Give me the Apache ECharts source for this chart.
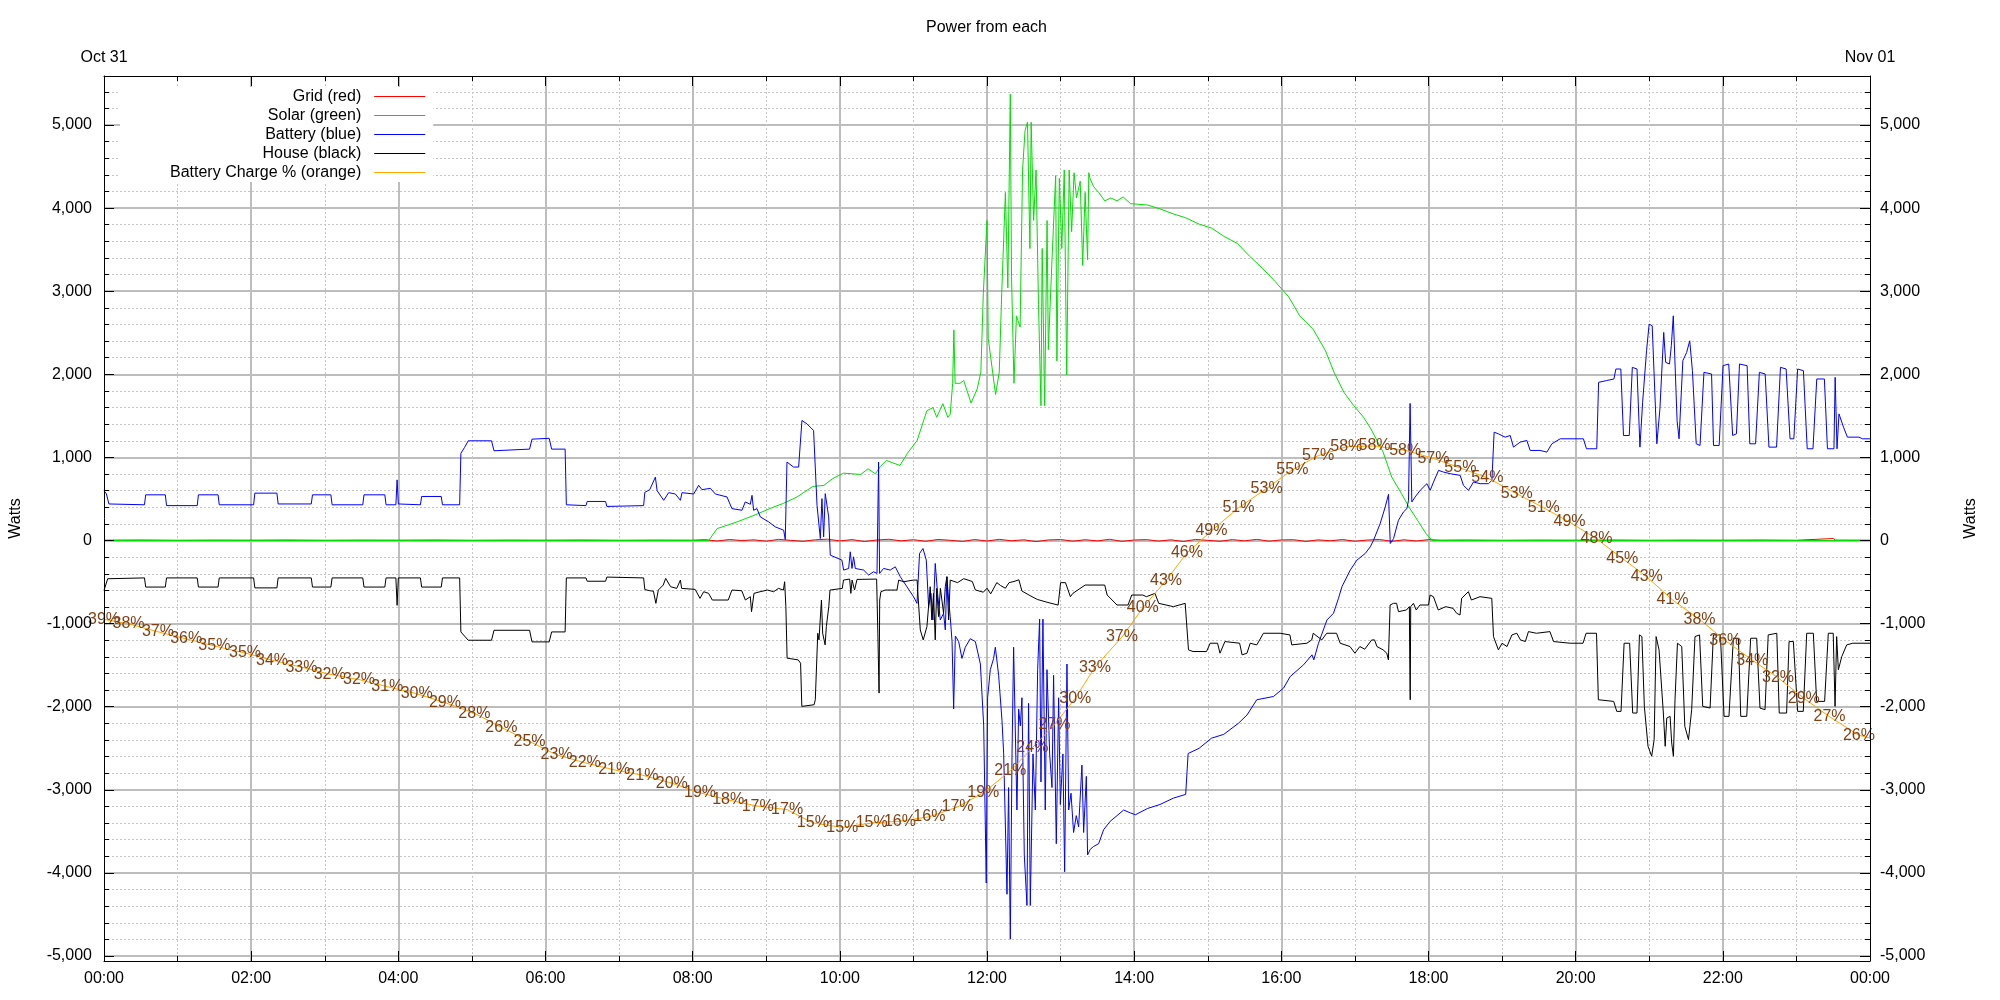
<!DOCTYPE html>
<html>
<head>
<meta charset="utf-8">
<script src="https://cdn.jsdelivr.net/npm/echarts@6/dist/echarts.min.js"></script>
<style>html,body{margin:0;padding:0;background:#fff}#c{width:2000px;height:1000px}</style>
</head>
<body>
<div id="c"></div>
<script>
// ---- data (x = minutes after midnight Oct 31, y = Watts) ----
const titleText = 'Power from each';
const dateLabels = ['Oct 31', 'Nov 01'];
const seriesNames = ['Grid (red)', 'Solar (green)', 'Battery (blue)', 'House (black)', 'Battery Charge % (orange)'];

const gridData = [[0,4],[30,6],[60,3],[90,5],[120,4],[150,6],[180,3],[210,5],[240,4],[270,6],[300,3],[330,5],[360,4],[390,6],[420,3],[450,5],[480,4],
[490,10],[500,-6],[510,12],[520,0],[530,8],[540,-8],[550,14],[560,2],[570,-10],[580,9],[590,16],[600,-5],[610,11],[620,-12],[630,6],[640,15],[650,-4],[660,10],[670,-9],[680,13],[690,3],[700,-11],[710,12],[720,-6],[730,14],[740,-3],[750,9],[760,-13],[770,7],[780,12],[790,-8],[800,10],[810,-5],[820,15],[830,-10],[840,6],[850,11],[860,-7],[870,9],[880,-12],[890,13],[900,2],[910,-9],[920,11],[930,-4],[940,14],[950,-8],[960,7],[970,10],[980,-11],[990,8],[1000,-3],[1010,12],[1020,-9],[1030,6],[1040,13],[1050,-10],[1060,9],[1070,-6],[1080,11],[1090,4],
[1110,6],[1140,3],[1170,5],[1200,4],[1230,6],[1260,3],[1290,5],[1320,4],[1350,6],[1380,3],[1410,24],[1412,5],[1440,4]];

const solarData = [[0,0],[493,0],[500,144],[516,223],[530,303],[546,403],[554,447],[565,523],[578,651],[587,663],[594,744],[603,811],[617,795],[623,863],[629,803],[633,891],[638,963],[649,903],[655,1047],[663,1203],[671,1563],[676,1600],[679,1483],[684,1647],[688,1483],
[690,1520],[692,1892],[693,2534],[694,1892],[698,1892],[701,1926],[707,1655],[712,1824],[715,2027],[717,2973],[720,3851],[721,2432],[724,2095],[727,1757],[730,2027],[732,2973],[735,4189],[737,3041],[739,5372],[740,3176],[742,1892],[744,2703],[747,2568],[749,4459],[751,4932],[753,5034],[755,3514],[756,5034],[758,3851],[760,4459],[762,2838],[764,1622],[765,3514],[767,1622],[769,3851],[770,2297],[773,3378],[776,4392],[777,2162],[779,4358],[781,3514],[783,4459],[785,1993],[787,4459],[789,3716],[791,4426],[793,4122],[796,4324],[798,3311],[800,4189],[802,3378],[803,4426],[804,4358],[807,4257],[811,4189],[816,4088],[821,4122],[826,4088],[831,4135],[837,4054],
[851,4037],[861,3991],[872,3930],[882,3884],[893,3807],[903,3761],[914,3653],[924,3577],[934,3423],[945,3270],[955,3116],[966,2932],[975,2704],[986,2540],[996,2284],[1003,2024],[1011,1784],[1019,1624],[1027,1484],[1033,1344],[1043,1064],[1050,764],[1058,564],[1064,404],[1071,244],[1078,84],[1083,0],[1440,0]];

const batteryData = [[0,600],[2,560],[4,440],[33,430],[34,550],[50,550],[51,420],[76,420],[77,550],[93,550],[94,430],[122,430],[123,570],[141,570],[142,440],[169,440],[170,550],[185,550],[186,430],[211,430],[212,550],[229,550],[230,430],[238,430],[239,730],[240,440],[258,430],[259,530],[275,530],[276,430],[290,430],[291,1050],[294,1120],[297,1200],[316,1200],[318,1080],[347,1100],[349,1220],[363,1230],[365,1100],[376,1100],[377,430],
[393,420],[394,470],[409,470],[410,410],[440,420],[441,580],
[445,612],[449.6,763],[451,600],[456.4,484],[460.4,576],[465.9,560],[470,484],[471.3,576],[480.8,560],[484.9,664],[487.6,612],[494.4,628],[498.5,560],[508,524],[512,384],[520.2,364],[522.9,464],[527,436],[528.4,544],[529.7,364],[532.4,384],[535.2,284],[542,224],[547.4,164],[554.2,124],[555.5,12],[556.9,944],[562.3,884],[566.4,884],[569.1,1444],[573.2,1404],[578.6,1324],[581.4,424],[584.1,24],[585.4,504],[586.8,44],[588.1,564],[590.9,284],[592.2,-176],[601.7,-236],[603.1,-356],[607.2,-336],[608.5,-136],[609.9,-336],[611.2,-196],[612.6,-336],[619.4,-356],[623.5,-416],[627.5,-376],[630.3,-396],[631.3,-396],[631.6,944],[632.2,944],[632.4,-396],[635.7,-336],[641.1,-356],[645.2,-316],[649.3,-436],[654.7,-556],[660.1,-676],[662.9,-756],[665,-156],[667.8,-96],[670.5,-236],[672.4,-796],[674.3,-636],[675.9,-956],[677.8,-276],[679.7,-636],[681.9,-956],[684.6,-876],[686,-1076],[687.3,-436],[688.7,-716],[690,-916],
[691.5,-1216],[692.8,-2027],[694.2,-1149],[696.9,-1216],[699.6,-1419],[702.3,-1284],[706.4,-1182],[710.5,-1216],[714.6,-1486],[717.3,-2230],[719.4,-4122],[720.5,-1892],[722.7,-1554],[725.4,-1419],[726.8,-1284],[729.5,-1622],[732.2,-2162],[733.6,-2568],[736.3,-4257],[737.6,-2973],[739,-4797],[740.4,-2568],[741.7,-1284],[744.4,-3243],[745.8,-2027],[747.2,-2230],[748.5,-1892],[750.4,-3784],[752.6,-4392],[753.9,-1959],[755.3,-4392],[757.5,-2568],[759.4,-3243],[761.3,-1554],[762.9,-946],[764,-2905],[765.6,-946],[767.5,-3243],[768.9,-1554],[771.1,-2568],[773,-2973],[774.3,-1622],[776.5,-3649],[778.4,-1892],[779.8,-3176],[781.9,-2568],[783.3,-3986],[785.2,-1486],[786.6,-3243],[788.5,-3041],[790.6,-3514],[792.8,-3311],[794.7,-3446],[797.4,-2703],[798.8,-3514],[801,-2838],[802,-3784],[804.2,-3716],[806.9,-3682],[811,-3649],[815.1,-3480],[820.5,-3378],[826,-3311],[831.4,-3243],[836.8,-3277],
[841,-3300],[851,-3224],[861,-3177],[872,-3100],[882,-3055],[884,-2563],[893,-2500],[903,-2379],[913,-2333],[925,-2200],[932,-2100],[940,-1916],
[953.6,-1877],[961.8,-1776],[967.2,-1637],[978.1,-1496],[985,-1376],[986.5,-1436],[990.3,-1236],[997.2,-956],[1002.5,-876],[1006.6,-696],[1009.4,-556],[1016.2,-356],[1021.6,-236],[1028.4,-156],[1032.5,-76],[1035.2,4],[1040.6,204],[1044.7,404],[1047.4,556],[1048.8,-36],[1051.5,24],[1055.5,244],[1059.6,344],[1062.4,384],[1063.7,484],[1065,1650],[1066.4,464],[1069.1,524],[1073.2,604],[1078.7,684],[1081.4,604],[1084.1,704],[1088.2,844],[1092.2,824],[1097.7,804],[1105.8,784],[1108.5,664],[1112.6,604],[1116.7,704],[1122.1,684],[1128.9,684],[1131.7,724],[1133.5,1304],[1137,1284],[1142.5,1244],[1146.6,1264],[1149.3,1124],[1154.7,1184],[1160.2,1204],[1162.9,1084],[1171,1084],[1176.5,1064],[1180.6,1164],[1187.4,1224],
[1206.3,1224],[1208.8,1104],[1217.2,1104],[1218.7,1904],[1225,1924],[1231.2,1944],[1232.8,2064],[1236.8,2064],[1239,1264],[1240.6,1244],[1243.7,1264],[1246.2,2084],[1250,2064],[1252.4,1124],[1254.6,1664],[1257.8,2284],[1259.9,2604],[1262.4,2584],[1266.2,1164],[1268.7,1584],[1271.8,2504],[1273.4,2144],[1276.5,2124],[1278,2344],[1279.6,2704],[1282.7,1444],[1284.3,1224],[1287.4,2164],[1290.5,2264],[1293,2404],[1295.2,2044],[1298.3,1164],[1301.4,1144],[1304.6,2024],[1310.8,2004],[1312.4,1144],[1317,1144],[1320.2,2104],[1324.8,2124],[1328,1264],[1331.1,1284],[1333.6,2124],[1339.8,2104],[1342,1164],[1346.7,1164],[1349.8,2024],[1354.5,2004],[1357.6,1124],[1363.8,1124],[1367,2084],[1371.6,2064],[1374.8,1224],[1377.9,1224],[1381,2064],[1385.7,2044],[1388.8,1104],[1393.5,1104],[1396.6,1944],[1402.8,1944],[1405.3,1104],[1410.6,1104],[1411.6,1964],[1413.1,1104],[1414.7,1524],[1418.4,1364],[1421.6,1244],[1430.9,1244],[1434,1224],[1440,1224]];

const houseData = [[0,-600],[3,-460],[33,-450],[34,-560],[50,-560],[51,-450],[76,-450],[77,-560],[93,-560],[94,-450],[122,-450],[123,-570],[141,-570],[142,-450],[169,-450],[170,-560],[185,-560],[186,-450],[211,-450],[212,-560],[229,-560],[230,-450],[238,-450],[239,-780],[240,-450],[258,-450],[259,-560],[275,-560],[276,-450],[290,-450],[291,-1100],[294,-1150],[297,-1200],[316,-1200],[318,-1080],[347,-1080],[349,-1220],[363,-1220],[365,-1100],[376,-1100],[377,-450],[393,-450],[394,-490],[409,-490],[410,-440],[440,-450],[441,-590],
[445,-604],[448,-610],[450,-756],[452,-596],[456,-536],[458,-456],[462,-556],[467,-576],[470,-476],[471,-576],[482,-588],[486,-696],[489,-616],[493,-636],[496,-716],[509,-716],[512,-596],[520,-604],[523,-716],[527,-676],[528,-856],[530,-636],[535,-616],[541,-596],[546,-616],[550,-576],[554,-596],[555,-496],[556,-796],[557,-1416],[566,-1436],[568,-1476],[569,-1996],[579,-1976],[580,-1916],[582,-1116],[583,-1196],[585,-716],[586,-1116],[588,-1256],[589,-1036],[591,-796],[592,-596],[602,-576],[603,-476],[608,-464],[609,-636],[610,-476],[612,-596],[614,-468],[630,-464],[631,-1116],[632,-1836],[632.5,-716],[633.5,-616],[637,-596],[646.6,-596],[648,-476],[652,-496],[660,-476],[663,-476],[664,-716],[665.6,-1076],[668,-1196],[671,-1036],[673.7,-556],[675,-956],[676.4,-636],[677.8,-1196],[679,-576],[680.5,-916],[682,-576],[684.6,-876],[686,-556],[687.3,-436],[688.7,-956],[690,-476],
[696,-507],[701,-459],[708,-493],[710.5,-595],[717,-622],[720,-574],[723,-642],[728,-507],[731,-541],[735,-574],[738,-507],[742,-493],[746,-473],[748.5,-608],[755,-662],[761,-709],[769,-743],[778,-777],[780,-507],[784,-507],[788,-676],[790,-636],[800,-536],[816,-536],[818,-656],[826,-776],[835,-776],[838,-656],[847,-656],[850,-676],[857,-636],[860,-756],[866,-776],[872,-796],[881.6,-756],[883,-776],[884.3,-1316],[888,-1336],[899,-1336],[902,-1236],[908,-1236],[910,-1356],[914,-1216],[926,-1236],[928,-1376],[932,-1356],[934.6,-1236],[940,-1256],[945.4,-1116],[959,-1116],[967,-1136],[968.5,-1256],[980.8,-1236],[984.8,-1196],[986,-1116],[993,-1196],[997,-1116],[1005,-1116],[1008,-1236],[1016,-1276],[1020,-1356],[1024,-1276],[1028,-1308],[1033.7,-1196],[1036,-1196],[1038,-1276],[1043,-1316],[1046,-1356],[1047.3,-1436],[1048.7,-776],[1051.4,-756],[1054,-756],[1055.5,-856],[1062,-836],[1064.4,-796],[1064.8,-1556],[1065.1,-1916],[1065.5,-796],[1067.7,-756],[1070,-836],[1073,-776],[1080,-776],[1081.3,-656],[1084,-676],[1088,-836],[1094,-796],[1100,-816],[1103,-876],[1105.7,-896],[1107,-696],[1112.5,-616],[1115,-716],[1122,-676],[1131.6,-696],[1133,-1156],[1137,-1316],[1140,-1236],[1144,-1276],[1148,-1136],[1152,-1116],[1155,-1196],[1159,-1216],[1161.5,-1096],[1168,-1116],[1179,-1096],[1182,-1216],[1195.5,-1236],[1206,-1236],[1208.5,-1116],[1217,-1116],[1218.5,-1916],[1231,-1936],[1233.5,-2056],[1237,-2056],[1239.5,-1236],[1244,-1236],[1246.5,-2076],[1250,-2076],[1252,-1136],[1254,-1156],[1256,-1996],[1259,-2476],[1262,-2596],[1264,-2396],[1265.6,-1156],[1268,-1316],[1271.5,-2076],[1273,-2476],[1274.3,-2136],[1277,-2116],[1278.3,-2436],[1279.7,-2596],[1281,-1916],[1283,-1236],[1286.5,-1276],[1289,-2236],[1292,-2396],[1294.6,-2036],[1297.3,-1156],[1301,-1136],[1303.6,-1996],[1309.6,-2016],[1312.3,-1136],[1318,-1136],[1321,-2116],[1325,-2116],[1328.6,-1176],[1332.7,-1176],[1334.6,-2116],[1339.5,-2116],[1342.7,-1176],[1347.6,-1176],[1350.3,-2016],[1354.4,-2036],[1357,-1136],[1364,-1116],[1366,-2076],[1372,-2076],[1374,-1216],[1377.5,-1216],[1381,-2056],[1385.6,-2056],[1388.4,-1116],[1393.8,-1116],[1396.5,-1936],[1403,-1936],[1406,-1116],[1410,-1116],[1411.5,-1996],[1412.8,-1156],[1414.2,-1556],[1417,-1396],[1421,-1256],[1426,-1236],[1440,-1236]];

// battery state of charge (%), plotted against a 0..100 scale
const chargeTimes = [0,20,44,67,90,115,137,161,184,208,231,255,278,302,324,347,369,392,416,439,463,486,509,533,557,578,602,626,649,673,696,717,739,757,775,792,808,830,847,866,883,903,925,948,969,990,1013,1036,1061,1084,1106,1128,1152,1174,1195,1217,1238,1258,1279,1301,1322,1344,1365,1386,1407,1431,1440];
const chargeValues = [38.6,38.1,37.2,36.4,35.6,34.8,34.0,33.2,32.4,31.8,31.0,30.2,29.2,28.0,26.4,24.8,23.3,22.4,21.6,21.0,20.1,19.0,18.2,17.5,17.1,15.6,15.1,15.6,15.8,16.3,17.4,19.0,21.5,24.1,26.7,29.7,33.2,36.6,39.9,43.0,46.1,48.6,51.2,53.4,55.5,57.1,58.1,58.2,57.7,56.8,55.7,54.6,52.8,51.2,49.6,47.7,45.5,43.4,40.8,38.6,36.2,34.0,32.0,29.7,27.6,25.5,25.2];
const chargeLabels = [39,38,37,36,35,35,34,33,32,32,31,30,29,28,26,25,23,22,21,21,20,19,18,17,17,15,15,15,16,16,17,19,21,24,27,30,33,37,40,43,46,49,51,53,55,57,58,58,58,57,55,54,53,51,49,48,45,43,41,38,36,34,32,29,27,26];

// ---- chart ----
const FONT = 'Liberation Sans';
const chargeLine = chargeTimes.map((t, i) => [t, chargeValues[i]]);
const chargeLabelPts = chargeLabels.map((l, i) => [chargeTimes[i], chargeValues[i]]);

function hhmm(v) {
  const m = ((Math.round(v) % 1440) + 1440) % 1440;
  return String(Math.floor(m / 60)).padStart(2, '0') + ':' + String(m % 60).padStart(2, '0');
}
function watts(v) { return Number(v).toLocaleString('en-US'); }

const X = { type: 'value', min: 0, max: 1440, interval: 120 };
const Y = { type: 'value', min: -5060, max: 5590, splitNumber: 10 };
const tickCol = '#000';

const option = {
  animation: false,
  backgroundColor: '#ffffff',
  textStyle: { fontFamily: FONT, fontSize: 16, color: '#000' },
  title: {
    text: titleText, left: 921, top: 15,
    textStyle: { fontFamily: FONT, fontSize: 16, fontWeight: 'normal', color: '#000' }
  },
  grid: { left: 104, right: 130, top: 76, bottom: 39, containLabel: false },
  legend: {
    orient: 'vertical', align: 'right', left: 120, top: 87, padding: [0, 8, 0, 50],
    backgroundColor: '#ffffff', itemWidth: 51, itemHeight: 1, itemGap: 0,
    icon: 'rect', selectedMode: false, z: 4,
    textStyle: { fontFamily: FONT, fontSize: 16, color: '#000', lineHeight: 19, padding: [0, 8, 0, 0] },
    data: seriesNames
  },
  xAxis: [
    Object.assign({}, X, { // grid lines
      position: 'bottom', z: 0,
      axisLine: { show: false }, axisTick: { show: false }, axisLabel: { show: false },
      splitLine: { show: true, showMinLine: false, showMaxLine: false, lineStyle: { color: '#bdbdbd', width: 2 } },
      minorTick: { show: false, splitNumber: 2 },
      minorSplitLine: { show: true, lineStyle: { color: '#c6c6c6', width: 1, type: [2, 2] } }
    }),
    Object.assign({}, X, { // bottom axis
      position: 'bottom', z: 5,
      axisLine: { show: true, onZero: false, lineStyle: { color: tickCol, width: 1 } },
      axisTick: { show: true, inside: true, length: 10, lineStyle: { color: tickCol, width: 1 } },
      minorTick: { show: true, splitNumber: 2, length: 5, lineStyle: { color: tickCol, width: 1 } },
      axisLabel: { show: true, formatter: hhmm, margin: 10, fontFamily: FONT, fontSize: 16, color: '#000', showMinLabel: true, showMaxLabel: true },
      splitLine: { show: false }
    }),
    Object.assign({}, X, { // top axis
      position: 'top', z: 5,
      axisLine: { show: true, onZero: false, lineStyle: { color: tickCol, width: 1 } },
      axisTick: { show: true, inside: true, length: 10, lineStyle: { color: tickCol, width: 1 } },
      minorTick: { show: true, splitNumber: 2, length: 5, lineStyle: { color: tickCol, width: 1 } },
      axisLabel: {
        show: true, margin: 10, fontFamily: FONT, fontSize: 16, color: '#000', showMinLabel: true, showMaxLabel: true,
        formatter: v => (v === 0 ? dateLabels[0] : (v === 1440 ? dateLabels[1] : ''))
      },
      splitLine: { show: false }
    })
  ],
  yAxis: [
    Object.assign({}, Y, { // grid lines
      position: 'left', z: 0,
      axisLine: { show: false }, axisTick: { show: false }, axisLabel: { show: false },
      splitLine: { show: true, showMinLine: false, showMaxLine: false, lineStyle: { color: '#bdbdbd', width: 2 } },
      minorTick: { show: false, splitNumber: 5 },
      minorSplitLine: { show: true, lineStyle: { color: '#c6c6c6', width: 1, type: [2, 2] } }
    }),
    Object.assign({}, Y, { // left axis
      position: 'left', z: 5,
      name: 'Watts', nameLocation: 'middle', nameRotate: 90, nameGap: 80,
      nameTextStyle: { fontFamily: FONT, fontSize: 16, color: '#000' },
      axisLine: { show: true, onZero: false, lineStyle: { color: tickCol, width: 1 } },
      axisTick: { show: true, inside: true, length: 10, lineStyle: { color: tickCol, width: 1 } },
      minorTick: { show: true, splitNumber: 5, length: 5, lineStyle: { color: tickCol, width: 1 } },
      axisLabel: { show: true, formatter: watts, margin: 12, fontFamily: FONT, fontSize: 16, color: '#000', showMinLabel: false, showMaxLabel: false },
      splitLine: { show: false }
    }),
    Object.assign({}, Y, { // right axis
      position: 'right', z: 5,
      name: 'Watts', nameLocation: 'middle', nameRotate: 90, nameGap: 93,
      nameTextStyle: { fontFamily: FONT, fontSize: 16, color: '#000' },
      axisLine: { show: true, onZero: false, lineStyle: { color: tickCol, width: 1 } },
      axisTick: { show: true, inside: true, length: 10, lineStyle: { color: tickCol, width: 1 } },
      minorTick: { show: true, splitNumber: 5, length: 5, lineStyle: { color: tickCol, width: 1 } },
      axisLabel: { show: true, formatter: watts, margin: 10, fontFamily: FONT, fontSize: 16, color: '#000', showMinLabel: false, showMaxLabel: false },
      splitLine: { show: false }
    }),
    { type: 'value', min: 0, max: 100, show: false, position: 'right' } // charge %
  ],
  series: [
    { name: seriesNames[0], type: 'line', data: gridData, symbol: 'none', xAxisIndex: 0, yAxisIndex: 0,
      lineStyle: { color: '#ff0000', width: 1 }, itemStyle: { color: '#ff0000' } },
    { name: seriesNames[1], type: 'line', data: solarData, symbol: 'none', xAxisIndex: 0, yAxisIndex: 0,
      lineStyle: { color: '#00e000', width: 1 }, itemStyle: { color: '#00e000' } },
    { name: seriesNames[2], type: 'line', data: batteryData, symbol: 'none', xAxisIndex: 0, yAxisIndex: 0,
      lineStyle: { color: '#0000ff', width: 1 }, itemStyle: { color: '#0000ff' } },
    { name: seriesNames[3], type: 'line', data: houseData, symbol: 'none', xAxisIndex: 0, yAxisIndex: 0,
      lineStyle: { color: '#000000', width: 1 }, itemStyle: { color: '#000000' } },
    { name: seriesNames[4], type: 'line', data: chargeLine, symbol: 'none', xAxisIndex: 0, yAxisIndex: 3,
      lineStyle: { color: '#ffa500', width: 1 }, itemStyle: { color: '#ffa500' } },
    { name: 'chargeText', type: 'scatter', data: chargeLabelPts, xAxisIndex: 0, yAxisIndex: 3,
      symbol: 'circle', symbolSize: 1, itemStyle: { color: 'rgba(0,0,0,0)' }, z: 3,
      label: { show: true, position: 'inside', fontFamily: FONT, fontSize: 16, color: '#804014',
        textBorderWidth: 0, opacity: 1,
        formatter: p => chargeLabels[p.dataIndex] + '%' } }
  ]
};

const chart = echarts.init(document.getElementById('c'), null, { renderer: 'canvas' });
chart.setOption(option);
</script>
</body>
</html>
